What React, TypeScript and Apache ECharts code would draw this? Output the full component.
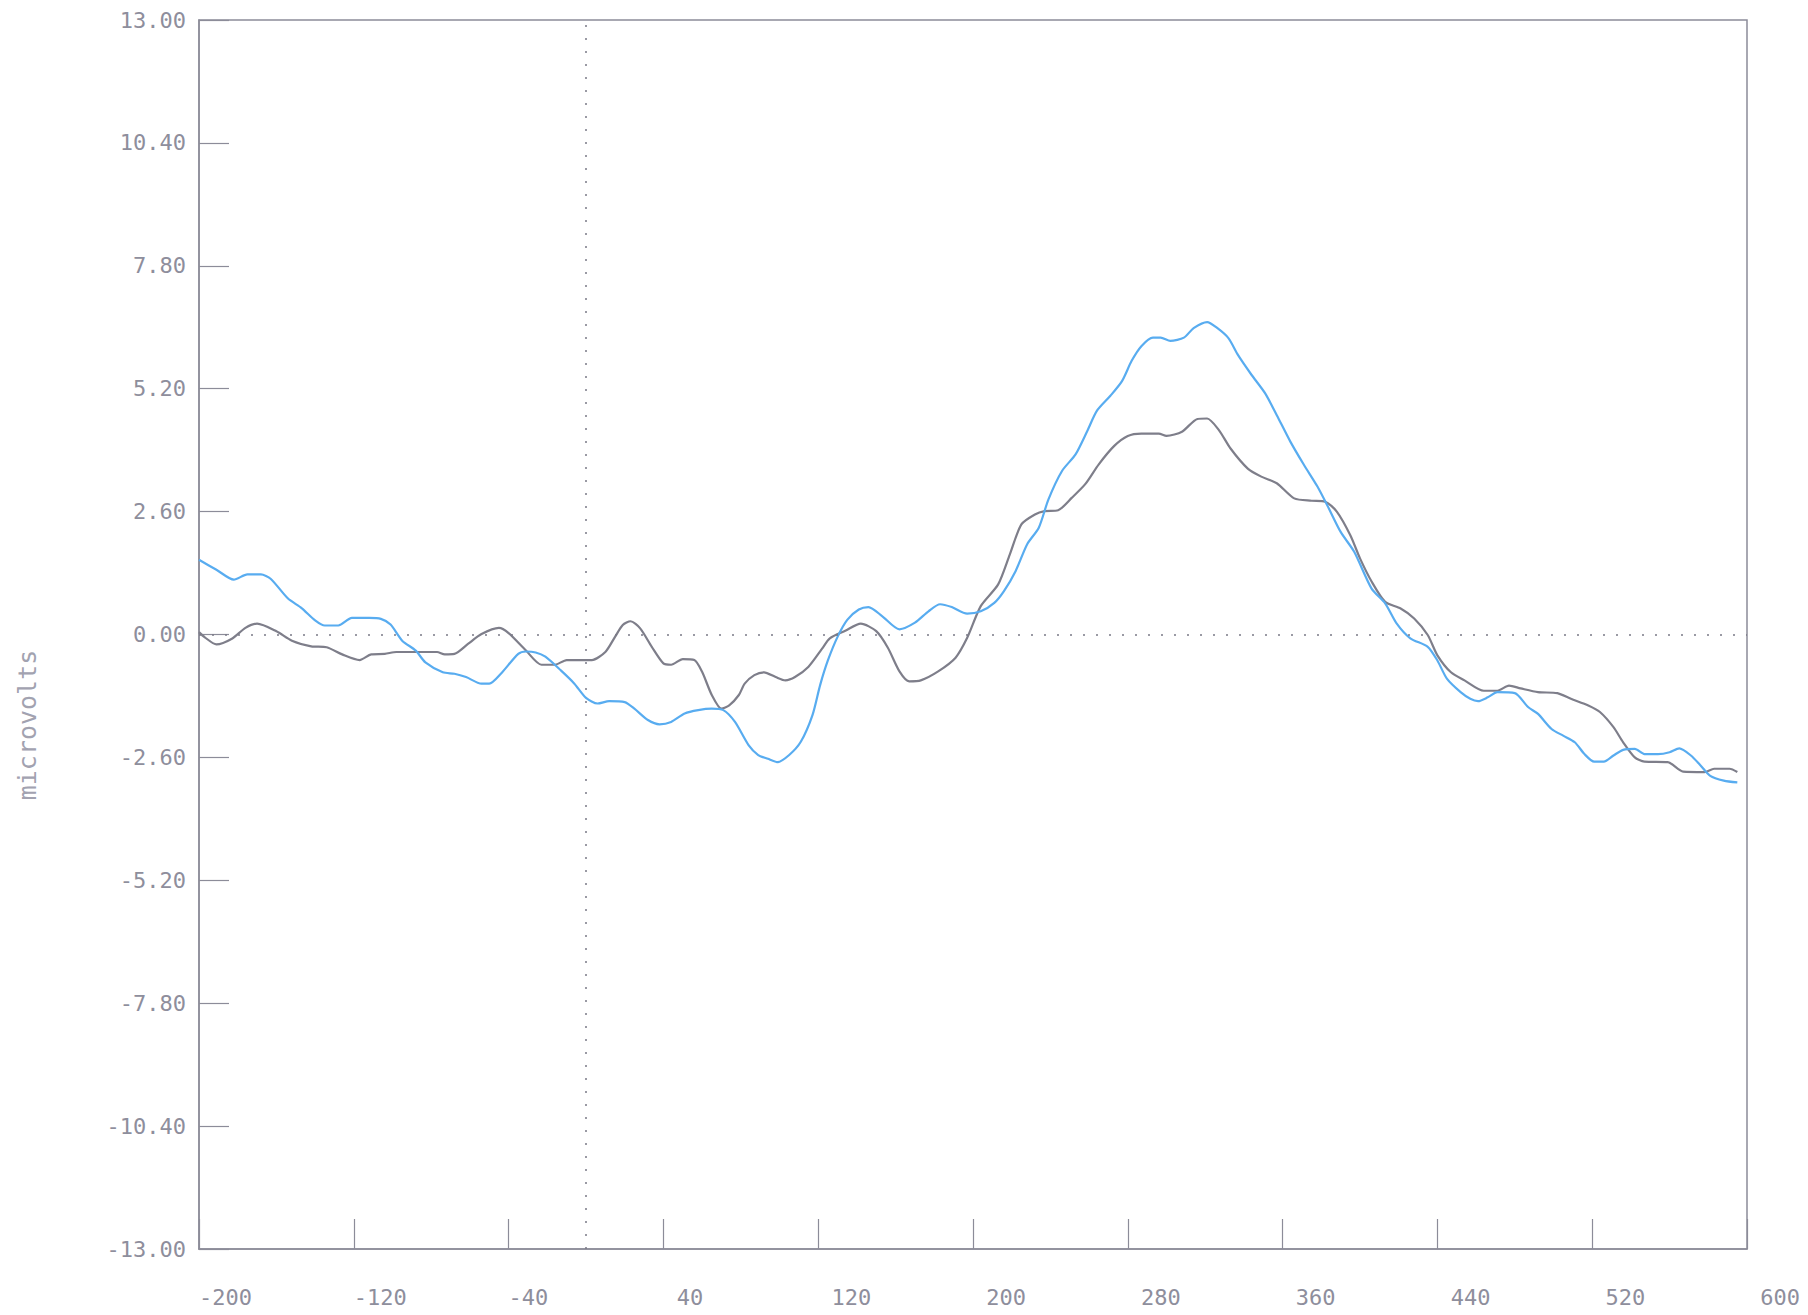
import React, { useEffect, useRef } from "react";
import * as echarts from "echarts";

// Latency (ms) and amplitude (µV) samples of the two averaged waveforms
const blueMs = [
  -200, -191, -182, -175, -168, -163, -154, -147, -140, -135, -128, -121, -112, -106, -101, -95,
  -88, -83, -74, -68, -62, -54, -50, -44, -35, -31, -26, -21, -13, -6, 0, 6, 12, 20, 25, 32, 38,
  44, 51, 58, 65, 71, 77, 84, 89, 94, 99, 105, 111, 117, 121, 125, 130, 135, 141, 146, 153, 162,
  170, 177, 183, 189, 197, 204, 211, 216, 222, 228, 234, 239, 246, 253, 259, 264, 271, 277, 282,
  287, 293, 297, 302, 309, 314, 321, 326, 332, 337, 344, 351, 357, 364, 371, 378, 383, 390, 397,
  406, 413, 419, 426, 435, 440, 445, 452, 457, 461, 466, 471, 480, 487, 492, 499, 505, 511, 516,
  521, 526, 531, 536, 542, 547, 554, 560, 565, 571, 576, 581, 588, 595,
];
const blueUv = [
  1.58, 1.37, 1.16, 1.27, 1.27, 1.18, 0.76, 0.56, 0.3, 0.19, 0.19, 0.35, 0.35, 0.33, 0.21, -0.13,
  -0.34, -0.59, -0.8, -0.83, -0.9, -1.04, -1.04, -0.83, -0.41, -0.36, -0.38, -0.47, -0.76, -1.04,
  -1.34, -1.46, -1.41, -1.43, -1.57, -1.81, -1.9, -1.85, -1.67, -1.6, -1.57, -1.6, -1.85, -2.34,
  -2.55, -2.63, -2.7, -2.55, -2.27, -1.71, -1.07, -0.55, -0.05, 0.31, 0.53, 0.58, 0.39, 0.11,
  0.25, 0.49, 0.64, 0.58, 0.44, 0.49, 0.67, 0.92, 1.34, 1.91, 2.26, 2.86, 3.46, 3.81, 4.3, 4.73,
  5.05, 5.36, 5.79, 6.1, 6.28, 6.28, 6.21, 6.28, 6.48, 6.61, 6.49, 6.27, 5.91, 5.49, 5.1, 4.64,
  4.08, 3.59, 3.13, 2.74, 2.17, 1.75, 0.97, 0.66, 0.23, -0.08, -0.26, -0.55, -0.94, -1.22, -1.36,
  -1.41, -1.33, -1.22, -1.24, -1.54, -1.68, -2.0, -2.14, -2.28, -2.53, -2.69, -2.69, -2.56,
  -2.44, -2.42, -2.53, -2.53, -2.49, -2.41, -2.56, -2.77, -2.99, -3.09, -3.13,
];

const grayMs = [
  -200, -197, -191, -183, -176, -170, -160, -152, -142, -134, -126, -117, -111, -104, -98, -86,
  -77, -73, -68, -61, -54, -45, -40, -31, -23, -16, -10, 3, 10, 15, 19, 23, 28, 34, 40, 44, 50,
  56, 60, 65, 70, 74, 79, 82, 87, 92, 98, 103, 108, 115, 122, 126, 134, 142, 150, 156, 162, 167,
  173, 182, 191, 197, 204, 213, 219, 225, 232, 237, 244, 251, 258, 265, 273, 280, 287, 296, 300,
  308, 316, 321, 327, 333, 342, 349, 357, 366, 375, 382, 388, 395, 400, 406, 413, 421, 428, 435,
  440, 447, 454, 464, 471, 477, 483, 492, 502, 509, 518, 524, 531, 536, 542, 547, 559, 567, 578,
  583, 591, 595,
];
const grayUv = [
  0.05, -0.06, -0.21, -0.09, 0.14, 0.23, 0.07, -0.13, -0.25, -0.27, -0.42, -0.54, -0.42, -0.41,
  -0.37, -0.37, -0.37, -0.42, -0.41, -0.2, 0.01, 0.14, 0.03, -0.34, -0.64, -0.64, -0.54, -0.54,
  -0.37, -0.05, 0.2, 0.28, 0.13, -0.26, -0.61, -0.64, -0.52, -0.54, -0.79, -1.28, -1.57, -1.5,
  -1.28, -1.04, -0.86, -0.8, -0.9, -0.97, -0.9, -0.68, -0.3, -0.08, 0.08, 0.23, 0.07, -0.28,
  -0.78, -0.99, -0.97, -0.78, -0.49, -0.07, 0.6, 1.06, 1.69, 2.33, 2.54, 2.61, 2.63, 2.89, 3.18,
  3.6, 3.99, 4.2, 4.25, 4.25, 4.2, 4.29, 4.56, 4.57, 4.33, 3.94, 3.51, 3.34, 3.2, 2.88, 2.83,
  2.81, 2.6, 2.1, 1.61, 1.12, 0.69, 0.55, 0.34, -0.01, -0.44, -0.8, -0.97, -1.19, -1.19, -1.08,
  -1.14, -1.22, -1.24, -1.36, -1.5, -1.64, -1.96, -2.28, -2.6, -2.69, -2.7, -2.9, -2.91, -2.84,
  -2.84, -2.91,
];

// Axis ticks
const timeTicks = [-200, -120, -40, 40, 120, 200, 280, 360, 440, 520, 600];
const uvMin = -13;
const uvMax = 13;
const uvStep = 2.6;
const yTitle = "microvolts";

const FONT = "DejaVu Sans Mono";
const INK = "#8e8e9c";
const FRAME = "#8c8c99";

const pairs = (xs: number[], ys: number[]) => xs.map((x, i) => [x, ys[i]]);

export default function App() {
  const ref = useRef<HTMLDivElement>(null);

  useEffect(() => {
    if (!ref.current) return;
    const chart = echarts.init(ref.current, undefined, { renderer: "svg" });
    chart.setOption({
      animation: false,
      backgroundColor: "#ffffff",
      grid: {
        left: 199,
        right: 61,
        top: 20,
        bottom: 66,
        show: true,
        borderColor: FRAME,
        borderWidth: 1.5,
        backgroundColor: "transparent",
      },
      xAxis: {
        type: "value",
        min: -200,
        max: 600,
        axisLine: { show: true, onZero: false, lineStyle: { color: FRAME, width: 1.5 } },
        axisTick: {
          show: true,
          inside: true,
          length: 30,
          customValues: timeTicks,
          lineStyle: { color: FRAME, width: 1.2 },
        },
        axisLabel: {
          customValues: timeTicks,
          align: "left",
          margin: 37,
          fontFamily: FONT,
          fontSize: 22,
          color: INK,
          formatter: (v: number) => (v < 0 ? "-" : "\u00a0") + Math.abs(v),
        },
        splitLine: { show: false },
      },
      yAxis: {
        type: "value",
        min: uvMin,
        max: uvMax,
        interval: uvStep,
        axisLine: { show: true, onZero: false, lineStyle: { color: FRAME, width: 1.5 } },
        axisTick: { show: true, inside: true, length: 30, lineStyle: { color: FRAME, width: 1.2 } },
        axisLabel: {
          margin: 13,
          fontFamily: FONT,
          fontSize: 22,
          color: INK,
          formatter: (v: number) => v.toFixed(2),
        },
        splitLine: { show: false },
      },
      graphic: [
        {
          type: "text",
          x: 27,
          y: 725,
          rotation: Math.PI / 2,
          style: {
            text: yTitle,
            fontFamily: FONT,
            fontSize: 25,
            fill: "#a2a2b0",
            align: "center",
            verticalAlign: "middle",
          },
        },
      ],
      series: [
        {
          type: "line",
          data: pairs(grayMs, grayUv),
          showSymbol: false,
          smooth: 0.25,
          lineStyle: { color: "#7e7e8a", width: 2.2 },
          z: 3,
          markLine: {
            silent: true,
            symbol: ["none", "none"],
            label: { show: false },
            lineStyle: { color: "#7a7a86", type: [2, 11], width: 1.5 },
            data: [{ yAxis: 0 }, { xAxis: 0 }],
          },
        },
        {
          type: "line",
          data: pairs(blueMs, blueUv),
          showSymbol: false,
          smooth: 0.25,
          lineStyle: { color: "#58acf0", width: 2.2 },
          z: 4,
        },
      ],
    });
    return () => chart.dispose();
  }, []);

  return (
    <div
      ref={ref}
      style={{ position: "absolute", left: 0, top: 0, width: 1808, height: 1315 }}
    />
  );
}
